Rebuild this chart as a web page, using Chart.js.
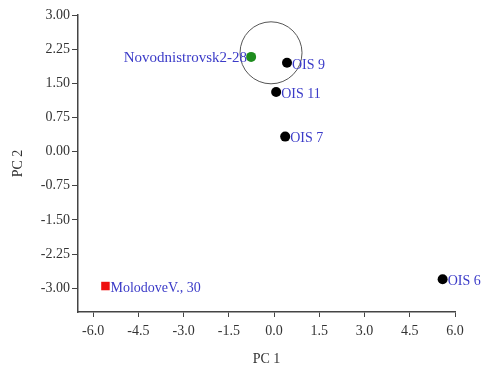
<!DOCTYPE html>
<html>
<head>
<meta charset="utf-8">
<script src="https://cdn.jsdelivr.net/npm/chart.js@4"></script>
<style>
html,body{margin:0;padding:0;background:#fff;}
#wrap{width:484px;height:365px;position:relative;}
</style>
</head>
<body>
<div id="wrap"><canvas id="c" width="484" height="365"></canvas></div>
<script>
// ---- data ----
const oisNames = ["OIS 9", "OIS 11", "OIS 7", "OIS 6"];
const oisPC1 = [0.43, 0.07, 0.37, 5.59];
const oisPC2 = [1.95, 1.31, 0.33, -2.80];

const novoNames = ["Novodnistrovsk2-28"];
const novoPC1 = [-0.76];
const novoPC2 = [2.08];

const moloNames = ["MolodoveV., 30"];
const moloPC1 = [-5.59];
const moloPC2 = [-2.95];

const circlePC1 = [-0.10];
const circlePC2 = [2.17];

const xTickValues = [-6.0, -4.5, -3.0, -1.5, 0.0, 1.5, 3.0, 4.5, 6.0];
const yTickValues = [-3.00, -2.25, -1.50, -0.75, 0.00, 0.75, 1.50, 2.25, 3.00];
const xTitle = "PC 1";
const yTitle = "PC 2";

const toPts = (xs, ys) => xs.map((x, i) => ({x: x, y: ys[i]}));

const serif = "'Liberation Serif', 'DejaVu Serif', serif";
const axisColor = '#444';
const labelColor = '#3b3bc8';

const labelPlugin = {
  id: 'pointLabels',
  afterDatasetsDraw(chart) {
    const ctx = chart.ctx;
    ctx.save();
    ctx.fillStyle = labelColor;
    ctx.textBaseline = 'middle';
    chart.data.datasets.forEach((ds, di) => {
      if (!ds.labelNames) return;
      ctx.font = (ds.labelSize || 14) + "px " + serif;
      const meta = chart.getDatasetMeta(di);
      meta.data.forEach((el, i) => {
        if (ds.labelSide === 'left') {
          ctx.textAlign = 'right';
          ctx.fillText(ds.labelNames[i], el.x - 4, el.y + 1);
        } else {
          ctx.textAlign = 'left';
          ctx.fillText(ds.labelNames[i], el.x + 5, el.y + 2);
        }
      });
    });
    ctx.restore();
  }
};

new Chart(document.getElementById('c'), {
  type: 'scatter',
  data: {
    datasets: [
      {
        label: 'circle',
        data: toPts(circlePC1, circlePC2),
        pointRadius: 31,
        pointHoverRadius: 31,
        backgroundColor: 'rgba(0,0,0,0)',
        borderColor: '#555',
        borderWidth: 1,
        clip: false
      },
      {
        label: 'OIS',
        data: toPts(oisPC1, oisPC2),
        labelNames: oisNames,
        pointRadius: 5,
        backgroundColor: '#000',
        borderColor: '#000',
        borderWidth: 0,
        clip: false
      },
      {
        label: 'Novodnistrovsk',
        data: toPts(novoPC1, novoPC2),
        labelNames: novoNames,
        labelSide: 'left',
        labelSize: 15,
        pointRadius: 5,
        backgroundColor: '#1e8c1e',
        borderColor: '#1e8c1e',
        borderWidth: 0,
        clip: false
      },
      {
        label: 'Molodove',
        data: toPts(moloPC1, moloPC2),
        labelNames: moloNames,
        pointStyle: 'rect',
        pointRadius: 6,
        backgroundColor: '#ee1111',
        borderColor: '#ee1111',
        borderWidth: 0,
        clip: false
      }
    ]
  },
  options: {
    responsive: false,
    animation: false,
    events: [],
    layout: { autoPadding: false, padding: { top: 15, right: 29, left: 0, bottom: 0 } },
    plugins: { legend: { display: false }, tooltip: { enabled: false } },
    scales: {
      x: {
        type: 'linear',
        min: -6.5,
        max: 6.0,
        afterBuildTicks: s => { s.ticks = xTickValues.map(v => ({value: v})); },
        afterFit: s => { s.height = 53; },
        grid: { display: true, drawOnChartArea: false, drawTicks: true, tickLength: 5, color: axisColor, lineWidth: 1 },
        border: { display: true, color: axisColor, width: 1.5 },
        ticks: {
          color: '#333',
          font: { family: serif, size: 14 },
          padding: 6,
          maxRotation: 0,
          autoSkip: false,
          callback: v => Number(v).toFixed(1)
        },
        title: { display: true, text: xTitle, color: '#333', font: { family: serif, size: 14 }, padding: { top: 5, bottom: -3 } }
      },
      y: {
        type: 'linear',
        min: -3.52,
        max: 3.0,
        afterBuildTicks: s => { s.ticks = yTickValues.map(v => ({value: v})); },
        afterFit: s => { s.width = 78; },
        grid: { display: true, drawOnChartArea: false, drawTicks: true, tickLength: 6, color: axisColor, lineWidth: 1 },
        border: { display: true, color: axisColor, width: 1.5 },
        ticks: {
          color: '#333',
          font: { family: serif, size: 14 },
          padding: 2,
          autoSkip: false,
          callback: v => Number(v).toFixed(2)
        },
        title: { display: true, text: yTitle, color: '#333', font: { family: serif, size: 14 }, padding: { top: 10, bottom: 0 } }
      }
    }
  },
  plugins: [labelPlugin]
});
</script>
</body>
</html>
